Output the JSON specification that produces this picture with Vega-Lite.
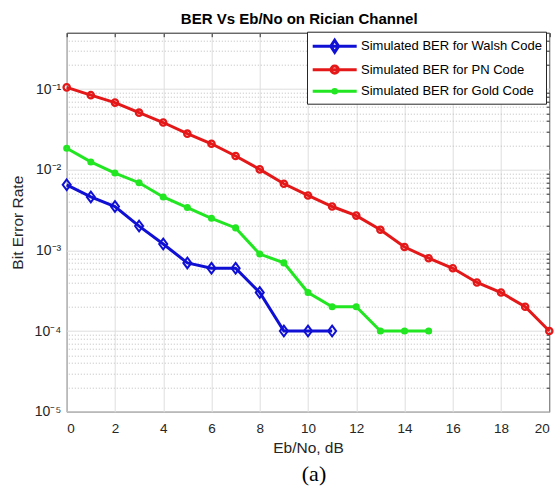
{
  "$schema": "https://vega.github.io/schema/vega-lite/v6.json",
  "width": 482.6,
  "height": 379,
  "autosize": {"type": "none"},
  "padding": {"left": 66.7, "top": 32.7, "right": 8.7, "bottom": 77.3},
  "background": "white",
  "title": {"text": "(a)", "orient": "bottom", "anchor": "middle", "font": "Liberation Serif", "fontSize": 22, "fontWeight": "normal", "color": "black", "offset": 8, "dx": 6},
  "config": {
    "font": "Liberation Sans",
    "view": {"stroke": "#262626", "strokeWidth": 1},
    "axis": {"domain": false, "labelColor": "#262626", "titleColor": "#262626", "labelFont": "Liberation Sans", "titleFont": "Liberation Sans", "titleFontWeight": "normal"}
  },
  "data": {"values": [
    {"series": "Simulated BER for Walsh Code", "x": 0, "ber": 0.0065},
    {"series": "Simulated BER for Walsh Code", "x": 1, "ber": 0.0046},
    {"series": "Simulated BER for Walsh Code", "x": 2, "ber": 0.0035},
    {"series": "Simulated BER for Walsh Code", "x": 3, "ber": 0.002},
    {"series": "Simulated BER for Walsh Code", "x": 4, "ber": 0.0012},
    {"series": "Simulated BER for Walsh Code", "x": 5, "ber": 0.0007},
    {"series": "Simulated BER for Walsh Code", "x": 6, "ber": 0.0006},
    {"series": "Simulated BER for Walsh Code", "x": 7, "ber": 0.0006},
    {"series": "Simulated BER for Walsh Code", "x": 8, "ber": 0.0003},
    {"series": "Simulated BER for Walsh Code", "x": 9, "ber": 0.0001},
    {"series": "Simulated BER for Walsh Code", "x": 10, "ber": 0.0001},
    {"series": "Simulated BER for Walsh Code", "x": 11, "ber": 0.0001},
    {"series": "Simulated BER for PN Code", "x": 0, "ber": 0.105},
    {"series": "Simulated BER for PN Code", "x": 1, "ber": 0.084},
    {"series": "Simulated BER for PN Code", "x": 2, "ber": 0.068},
    {"series": "Simulated BER for PN Code", "x": 3, "ber": 0.051},
    {"series": "Simulated BER for PN Code", "x": 4, "ber": 0.0385},
    {"series": "Simulated BER for PN Code", "x": 5, "ber": 0.028},
    {"series": "Simulated BER for PN Code", "x": 6, "ber": 0.021},
    {"series": "Simulated BER for PN Code", "x": 7, "ber": 0.0148},
    {"series": "Simulated BER for PN Code", "x": 8, "ber": 0.0101},
    {"series": "Simulated BER for PN Code", "x": 9, "ber": 0.0067},
    {"series": "Simulated BER for PN Code", "x": 10, "ber": 0.0048},
    {"series": "Simulated BER for PN Code", "x": 11, "ber": 0.0035},
    {"series": "Simulated BER for PN Code", "x": 12, "ber": 0.0027},
    {"series": "Simulated BER for PN Code", "x": 13, "ber": 0.0018},
    {"series": "Simulated BER for PN Code", "x": 14, "ber": 0.0011},
    {"series": "Simulated BER for PN Code", "x": 15, "ber": 0.0008},
    {"series": "Simulated BER for PN Code", "x": 16, "ber": 0.0006},
    {"series": "Simulated BER for PN Code", "x": 17, "ber": 0.0004},
    {"series": "Simulated BER for PN Code", "x": 18, "ber": 0.0003},
    {"series": "Simulated BER for PN Code", "x": 19, "ber": 0.0002},
    {"series": "Simulated BER for PN Code", "x": 20, "ber": 0.0001},
    {"series": "Simulated BER for Gold Code", "x": 0, "ber": 0.0185},
    {"series": "Simulated BER for Gold Code", "x": 1, "ber": 0.0125},
    {"series": "Simulated BER for Gold Code", "x": 2, "ber": 0.0091},
    {"series": "Simulated BER for Gold Code", "x": 3, "ber": 0.0069},
    {"series": "Simulated BER for Gold Code", "x": 4, "ber": 0.0046},
    {"series": "Simulated BER for Gold Code", "x": 5, "ber": 0.0034},
    {"series": "Simulated BER for Gold Code", "x": 6, "ber": 0.0025},
    {"series": "Simulated BER for Gold Code", "x": 7, "ber": 0.0019},
    {"series": "Simulated BER for Gold Code", "x": 8, "ber": 0.0009},
    {"series": "Simulated BER for Gold Code", "x": 9, "ber": 0.0007},
    {"series": "Simulated BER for Gold Code", "x": 10, "ber": 0.0003},
    {"series": "Simulated BER for Gold Code", "x": 11, "ber": 0.0002},
    {"series": "Simulated BER for Gold Code", "x": 12, "ber": 0.0002},
    {"series": "Simulated BER for Gold Code", "x": 13, "ber": 0.0001},
    {"series": "Simulated BER for Gold Code", "x": 14, "ber": 0.0001},
    {"series": "Simulated BER for Gold Code", "x": 15, "ber": 0.0001}
  ]},
  "resolve": {"axis": {"x": "independent", "y": "independent"}},
  "layer": [
    {
      "mark": {"type": "point", "filled": false, "opacity": 0},
      "encoding": {
        "x": {"field": "x", "type": "quantitative", "scale": {"domain": [0, 20], "nice": false, "zero": false},
          "axis": {"orient": "bottom", "values": [0,2,4,6,8,10,12,14,16,18,20], "ticks": false, "labelPadding": 10, "labelFontSize": 13.5, "grid": true, "gridColor": "#dedede", "title": "Eb/No, dB", "titleFontSize": 15.5, "titlePadding": 5}},
        "y": {"field": "ber", "type": "quantitative", "scale": {"type": "log", "domain": [0.00001, 0.5], "nice": false},
          "axis": {"orient": "left", "values": [0.00001, 0.0001, 0.001, 0.01, 0.1], "ticks": false, "labelPadding": 6, "labelFontSize": 14, "grid": true, "gridColor": "#dedede",
            "labelExpr": "datum.value > 0.05 ? '10⁻¹' : datum.value > 0.005 ? '10⁻²' : datum.value > 0.0005 ? '10⁻³' : datum.value > 0.00005 ? '10⁻⁴' : '10⁻⁵'",
            "title": "Bit Error Rate", "titleFontSize": 15.5, "titlePadding": 9}},
        "color": {"field": "series", "type": "nominal", "title": null,
          "scale": {"domain": ["Simulated BER for Walsh Code", "Simulated BER for PN Code", "Simulated BER for Gold Code"], "range": ["#1010d4", "#e41818", "#22e622"]},
          "legend": {"orient": "none", "legendX": 240.3, "legendY": -1, "padding": 4, "rowPadding": 0.5, "strokeColor": "#262626", "fillColor": "white",
            "symbolSize": 309.76, "symbolStrokeWidth": 3, "symbolOpacity": 1, "symbolFillColor": "transparent", "labelOffset": 29, "labelFontSize": 13, "labelColor": "black", "labelLimit": 400, "labelFont": "Liberation Sans"}},
        "shape": {"field": "series", "type": "nominal", "title": null,
          "scale": {"domain": ["Simulated BER for Walsh Code", "Simulated BER for PN Code", "Simulated BER for Gold Code"],
            "range": ["M-1,0H4M1.5,-0.68L1.95,0L1.5,0.68L1.05,0Z", "M-1,0H4M1.09,0A0.41,0.41 0 1,0 1.91,0A0.41,0.41 0 1,0 1.09,0", "M-1,0H4M1.3,0A0.2,0.2 0 1,0 1.7,0A0.2,0.2 0 1,0 1.3,0"]},
          "legend": {"orient": "none", "legendX": 240.3, "legendY": -1, "padding": 4, "rowPadding": 0.5, "strokeColor": "#262626", "fillColor": "white",
            "symbolSize": 309.76, "symbolStrokeWidth": 3, "symbolOpacity": 1, "symbolFillColor": "transparent", "labelOffset": 29, "labelFontSize": 13, "labelColor": "black", "labelLimit": 400, "labelFont": "Liberation Sans"}}
      }
    },
    {
      "mark": {"type": "line", "strokeWidth": 3},
      "encoding": {
        "x": {"field": "x", "type": "quantitative", "scale": {"domain": [0, 20], "nice": false, "zero": false},
          "axis": {"orient": "top", "values": [0,2,4,6,8,10,12,14,16,18,20], "labels": false, "grid": false, "ticks": true, "tickSize": -4, "tickColor": "#262626",
            "title": "BER Vs Eb/No on Rician Channel", "titleFontSize": 15, "titleFontWeight": "bold", "titleColor": "black", "titlePadding": 6, "titleX": 232}},
        "y": {"field": "ber", "type": "quantitative", "scale": {"type": "log", "domain": [0.00001, 0.5], "nice": false},
          "axis": {"orient": "right", "values": [0.00002,0.00003,0.00004,0.00005,0.00006,0.00007,0.00008,0.00009,0.0002,0.0003,0.0004,0.0005,0.0006,0.0007,0.0008,0.0009,0.002,0.003,0.004,0.005,0.006,0.007,0.008,0.009,0.02,0.03,0.04,0.05,0.06,0.07,0.08,0.09,0.2,0.3,0.4],
            "labels": false, "ticks": true, "tickSize": -3, "tickColor": "#262626", "grid": true, "gridColor": "#bdbdbd", "gridDash": [1, 2], "title": null}},
        "color": {"field": "series", "type": "nominal", "scale": {"domain": ["Simulated BER for Walsh Code", "Simulated BER for PN Code", "Simulated BER for Gold Code"], "range": ["#1010d4", "#e41818", "#22e622"]}}
      }
    },
    {
      "transform": [{"filter": "datum.series === 'Simulated BER for Walsh Code'"}],
      "mark": {"type": "point", "filled": false, "shape": "M0,-1L0.75,0L0,1L-0.75,0Z", "size": 114, "strokeWidth": 2, "opacity": 1},
      "encoding": {
        "x": {"field": "x", "type": "quantitative", "scale": {"domain": [0, 20], "nice": false, "zero": false}, "axis": null},
        "y": {"field": "ber", "type": "quantitative", "scale": {"type": "log", "domain": [0.00001, 0.5], "nice": false}, "axis": null},
        "color": {"field": "series", "type": "nominal", "scale": {"domain": ["Simulated BER for Walsh Code", "Simulated BER for PN Code", "Simulated BER for Gold Code"], "range": ["#1010d4", "#e41818", "#22e622"]}}
      }
    },
    {
      "transform": [{"filter": "datum.series === 'Simulated BER for PN Code'"}],
      "mark": {"type": "point", "filled": false, "shape": "circle", "size": 40, "strokeWidth": 2.3, "opacity": 1},
      "encoding": {
        "x": {"field": "x", "type": "quantitative", "scale": {"domain": [0, 20], "nice": false, "zero": false}, "axis": null},
        "y": {"field": "ber", "type": "quantitative", "scale": {"type": "log", "domain": [0.00001, 0.5], "nice": false}, "axis": null},
        "color": {"field": "series", "type": "nominal", "scale": {"domain": ["Simulated BER for Walsh Code", "Simulated BER for PN Code", "Simulated BER for Gold Code"], "range": ["#1010d4", "#e41818", "#22e622"]}}
      }
    },
    {
      "transform": [{"filter": "datum.series === 'Simulated BER for Gold Code'"}],
      "mark": {"type": "point", "filled": false, "shape": "circle", "size": 15, "strokeWidth": 3.2, "opacity": 1},
      "encoding": {
        "x": {"field": "x", "type": "quantitative", "scale": {"domain": [0, 20], "nice": false, "zero": false}, "axis": null},
        "y": {"field": "ber", "type": "quantitative", "scale": {"type": "log", "domain": [0.00001, 0.5], "nice": false}, "axis": null},
        "color": {"field": "series", "type": "nominal", "scale": {"domain": ["Simulated BER for Walsh Code", "Simulated BER for PN Code", "Simulated BER for Gold Code"], "range": ["#1010d4", "#e41818", "#22e622"]}}
      }
    }
  ]
}
